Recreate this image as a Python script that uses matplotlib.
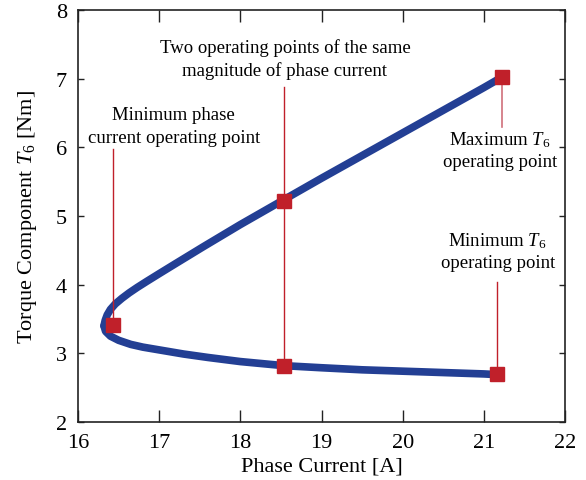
import matplotlib
matplotlib.use("Agg")
import matplotlib.pyplot as plt

plt.rcParams["font.family"] = "Liberation Serif"
plt.rcParams["mathtext.fontset"] = "custom"
plt.rcParams["mathtext.rm"] = "Liberation Serif"
plt.rcParams["mathtext.it"] = "Liberation Serif:italic"

# torque component T6 vs phase current, upper and lower branch
upper_i = [16.32, 16.335, 16.36, 16.40, 16.46, 16.54, 16.63, 16.73, 16.85, 17.0, 17.2, 17.54, 18.0,
           18.54, 19.0, 19.5, 20.0, 20.5, 21.0, 21.22]
upper_t = [3.40, 3.48, 3.56, 3.64, 3.72, 3.80, 3.88, 3.96, 4.05, 4.16, 4.305, 4.55, 4.875,
           5.24, 5.55, 5.88, 6.21, 6.54, 6.87, 7.02]
lower_i = [16.32, 16.34, 16.4, 16.5, 16.65, 16.8, 17.0, 17.3, 17.6, 18.0, 18.54,
           19.0, 19.5, 20.0, 20.5, 21.0, 21.16]
lower_t = [3.40, 3.32, 3.25, 3.19, 3.13, 3.09, 3.05, 2.99, 2.94, 2.88, 2.82,
           2.79, 2.76, 2.74, 2.72, 2.70, 2.69]

# marked operating points
op_i = [16.43, 18.54, 18.54, 21.22, 21.16]
op_t = [3.41, 5.22, 2.82, 7.02, 2.70]

BLUE = "#233f94"
RED = "#c0202a"

fig = plt.figure(figsize=(5.86, 4.81), dpi=100)
ax = fig.add_axes([0.1331, 0.1206, 0.8311, 0.8565])

ax.plot(upper_i, upper_t, color=BLUE, lw=5.5, solid_capstyle="round", solid_joinstyle="round", zorder=2)
ax.plot(lower_i, lower_t, color=BLUE, lw=5.5, solid_capstyle="round", solid_joinstyle="round", zorder=2)

# annotation lines
ax.plot([op_i[0], op_i[0]], [5.98, op_t[0]], color=RED, lw=1, zorder=3)
ax.plot([op_i[1], op_i[1]], [6.88, op_t[2]], color=RED, lw=1, zorder=3)
ax.plot([op_i[3], op_i[3]], [op_t[3], 6.30], color="#d0707a", lw=1.2, zorder=3)
ax.plot([op_i[4], op_i[4]], [4.04, op_t[4]], color=RED, lw=1, zorder=3)

ax.plot(op_i, op_t, "s", color=RED, ms=9.5, ls="none", zorder=4)

fs = 13.5
ax.text(17.18, 6.31, "Minimum phase\ncurrent operating point", ha="center", va="center",
        fontsize=fs, linespacing=1.45)
ax.text(18.55, 7.29, "Two operating points of the same\nmagnitude of phase current", ha="center",
        va="center", fontsize=fs, linespacing=1.35)
ax.text(21.20, 5.96, "Maximum $T_6$\noperating point", ha="center", va="center",
        fontsize=fs, linespacing=1.3)
ax.text(21.17, 4.49, "Minimum $T_6$\noperating point", ha="center", va="center",
        fontsize=fs, linespacing=1.3)

ax.set_xlim(16, 22)
ax.set_ylim(2, 8)
ax.set_xticks(range(16, 23))
ax.set_yticks(range(2, 9))
ax.tick_params(direction="in", top=True, right=True, labelsize=16, width=1, color="#222222")
ax.tick_params(axis="x", length=8.5, pad=8)
ax.tick_params(axis="y", length=4.5, pad=8)
for s in ax.spines.values():
    s.set_linewidth(1.2)
    s.set_color("#222222")

ax.set_xlabel("Phase Current [A]", fontsize=16, labelpad=3)
ax.set_ylabel("Torque Component $T_6$ [Nm]", fontsize=16, labelpad=12)

fig.savefig("out.png", dpi=100)
